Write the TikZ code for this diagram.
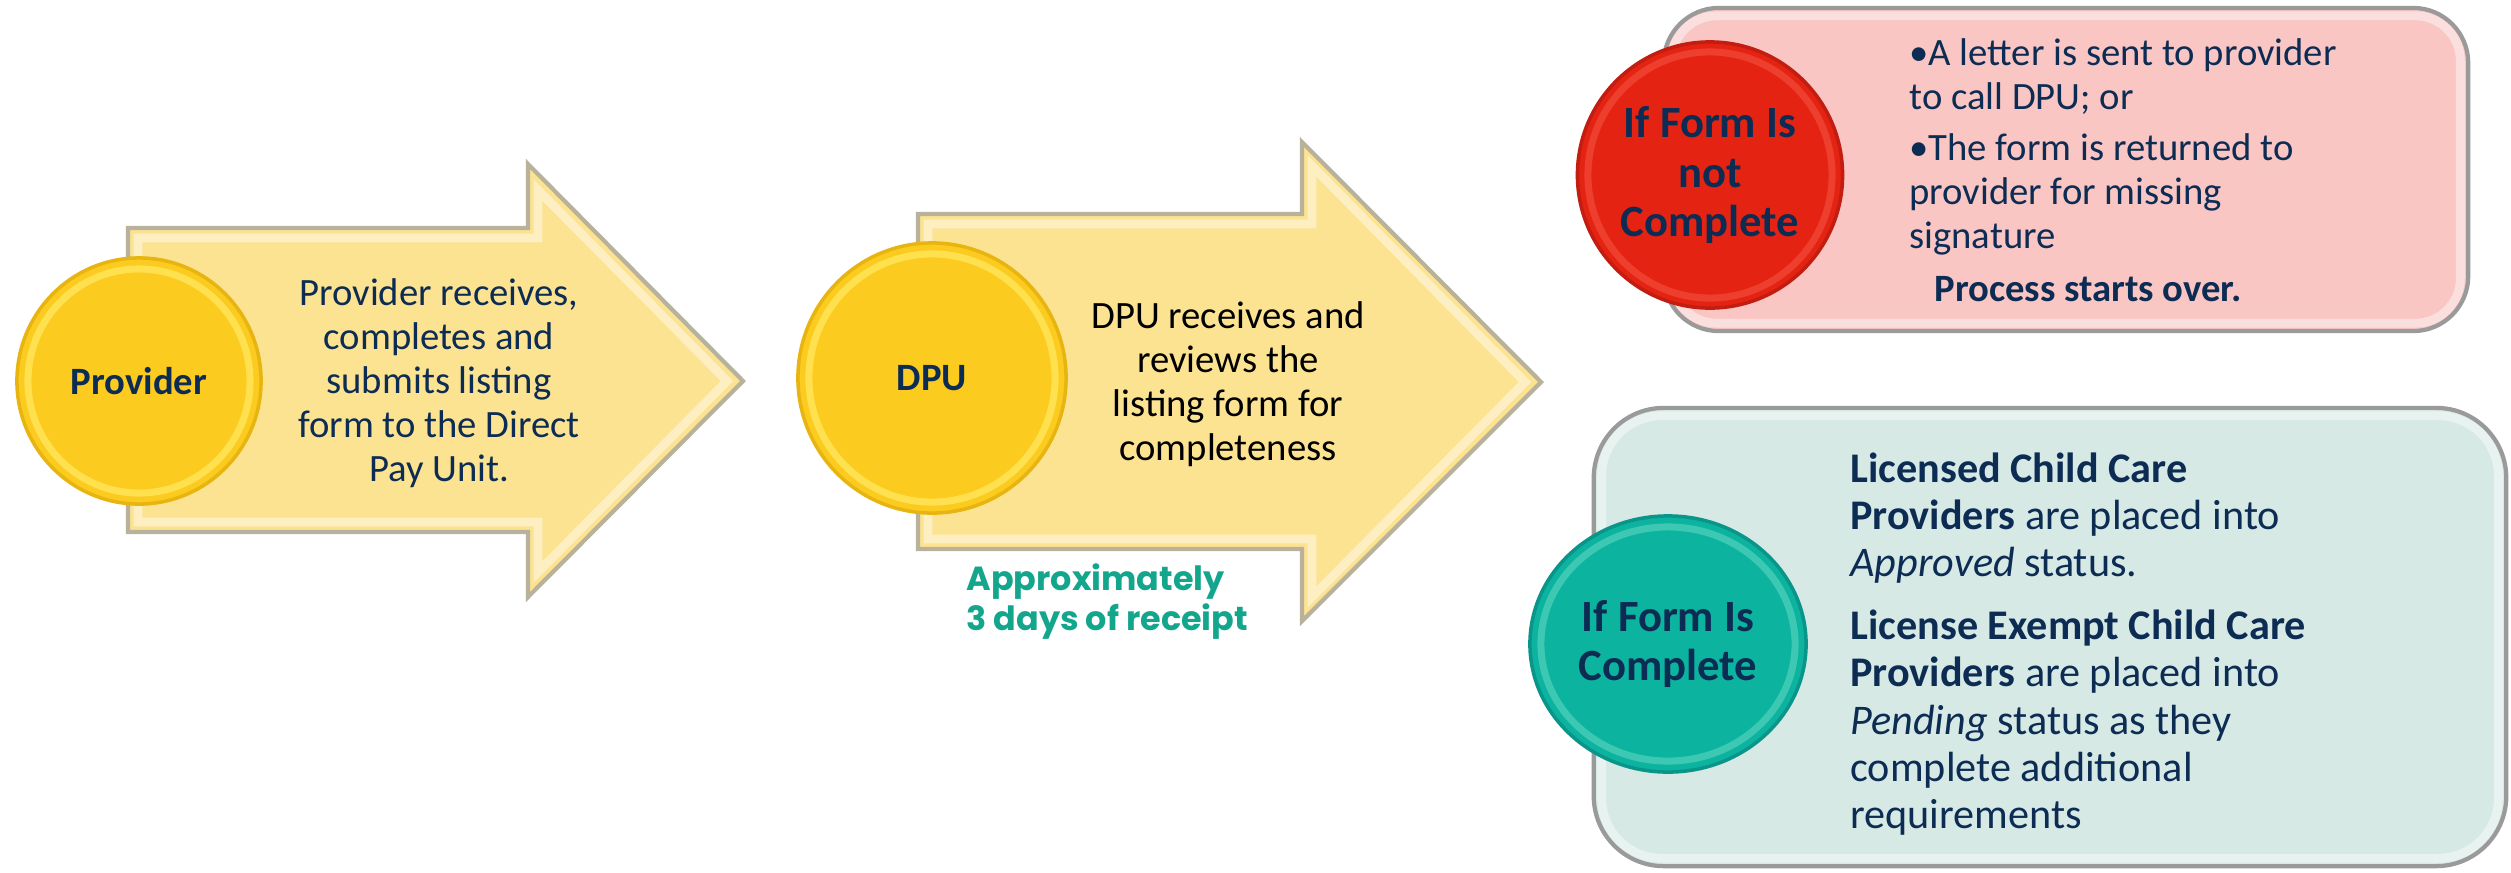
\documentclass[tikz,border=0pt]{standalone}
\usepackage{fontspec}
\setmainfont{Carlito}
\newfontfamily\roundfont{Poppins}
\usetikzlibrary{shapes.geometric}
\definecolor{navy}{HTML}{0D2C54}
\definecolor{arrowfill}{HTML}{FCE391}
\definecolor{arrowedge}{HTML}{B8B29C}
\definecolor{gold}{HTML}{FCCB1F}
\definecolor{goldring}{HTML}{FFE04F}
\definecolor{goldedge}{HTML}{E8B410}
\definecolor{redfill}{HTML}{E42313}
\definecolor{redring}{HTML}{EE3F2E}
\definecolor{rededge}{HTML}{C21D10}
\definecolor{pinkfill}{HTML}{F9C6C3}
\definecolor{tealfill}{HTML}{0CB39E}
\definecolor{tealring}{HTML}{3CC8B2}
\definecolor{tealedge}{HTML}{0A958A}
\definecolor{mintfill}{HTML}{D6E9E4}
\definecolor{boxedge}{HTML}{9A9A9A}
\definecolor{daysgreen}{HTML}{13A68C}
\begin{document}
\begin{tikzpicture}[x=0.01cm, y=-0.01cm]
        \tikzstyle{arrowbody}=[fill=arrowfill, draw=arrowedge, line width=1.2pt]
        \tikzstyle{sheen}=[draw=white, opacity=.45, line width=2.5pt]
        \tikzstyle{disc}=[draw, shape=ellipse, line width=1pt, inner sep=0pt, text=navy, align=center]
        \tikzstyle{panel}=[draw=boxedge, line width=1.2pt, inner sep=0pt]
        \tikzstyle{steptext}=[align=center, font=\fontsize{11}{12.5}\selectfont]

        \useasboundingbox (0,0) rectangle (2511,872);

        % the two step arrows
        \draw[arrowbody] (128,228) -- (528,228) -- (528,164) -- (743,381) -- (528,597) -- (528,532) -- (128,532) -- cycle;
        \draw[sheen] (138,238) -- (538,238) -- (538,190) -- (727,381) -- (538,572) -- (538,522) -- (138,522) -- cycle;
        \draw[arrowbody] (918,214) -- (1302,214) -- (1302,142) -- (1541,382) -- (1302,621) -- (1302,549) -- (918,549) -- cycle;
        \draw[sheen] (928,224) -- (1312,224) -- (1312,166) -- (1525,382) -- (1312,597) -- (1312,539) -- (928,539) -- cycle;

        % result panels
        \node[panel, fill=pinkfill, rounded corners=0.55cm, minimum width=8.04cm, minimum height=3.23cm](notbox) at (2066,169.5){};
        \draw[sheen, rounded corners=0.45cm] ([shift={(10,10)}]notbox.north west) rectangle ([shift={(-10,-10)}]notbox.south east);
        \node[panel, fill=mintfill, rounded corners=0.7cm, minimum width=9.12cm, minimum height=4.58cm](donebox) at (2050,637){};
        \draw[sheen, rounded corners=0.6cm] ([shift={(10,10)}]donebox.north west) rectangle ([shift={(-10,-10)}]donebox.south east);

        % discs
        \node[disc, draw=goldedge, fill=gold, minimum width=2.44cm, minimum height=2.46cm, font=\bfseries\fontsize{11}{13}\selectfont](P) at (139,381){Provider};
        \draw[goldring, line width=2pt] (P.center) ellipse [x radius=1.11cm, y radius=1.12cm];
        \node[disc, draw=goldedge, fill=gold, minimum width=2.68cm, minimum height=2.70cm, font=\bfseries\fontsize{11}{13}\selectfont](D) at (932,378){DPU};
        \draw[goldring, line width=2pt] (D.center) ellipse [x radius=1.23cm, y radius=1.24cm];
        \node[disc, draw=rededge, fill=redfill, minimum width=2.65cm, minimum height=2.66cm, font=\bfseries\fontsize{12.7}{14.2}\selectfont](N) at (1710,175){If Form Is\\not\\Complete};
        \draw[redring, line width=2pt] (N.center) ellipse [x radius=1.22cm, y radius=1.23cm];
        \node[disc, draw=tealedge, fill=tealfill, minimum width=2.76cm, minimum height=2.56cm, font=\bfseries\fontsize{12.7}{14.2}\selectfont](C) at (1668,644){If Form Is\\Complete};
        \draw[tealring, line width=2pt] (C.center) ellipse [x radius=1.27cm, y radius=1.17cm];

        % texts
        \node[steptext, text=navy](Ptext) at (439,383){Provider receives,\\completes and\\submits listing\\form to the Direct\\Pay Unit.};
        \node[steptext, text=black](Dtext) at (1228,384){DPU receives and\\reviews the\\listing form for\\completeness};
        \node[anchor=west, align=left, text=daysgreen, font=\roundfont\bfseries\fontsize{9.5}{11.4}\selectfont](days) at (954,602){Approximately\\3 days of receipt};
        \node[anchor=west, align=left, text=navy, font=\fontsize{11}{12.5}\selectfont](Ntext) at (1897,147){•A letter is sent to provider\\to call DPU; or\\[2pt]•The form is returned to\\provider for missing\\signature};
        \node[anchor=west, text=navy, font=\bfseries\fontsize{11}{12.5}\selectfont](over) at (1922,289){Process starts over.};
        \node[anchor=west, align=left, text=navy, font=\fontsize{12}{13.4}\selectfont](Ctext) at (1838,644){\textbf{Licensed Child Care}\\\textbf{Providers} are placed into\\\textit{Approved} status.\\[4.5pt]\textbf{License Exempt Child Care}\\\textbf{Providers} are placed into\\\textit{Pending} status as they\\complete additional\\requirements};
\end{tikzpicture}
\end{document}
